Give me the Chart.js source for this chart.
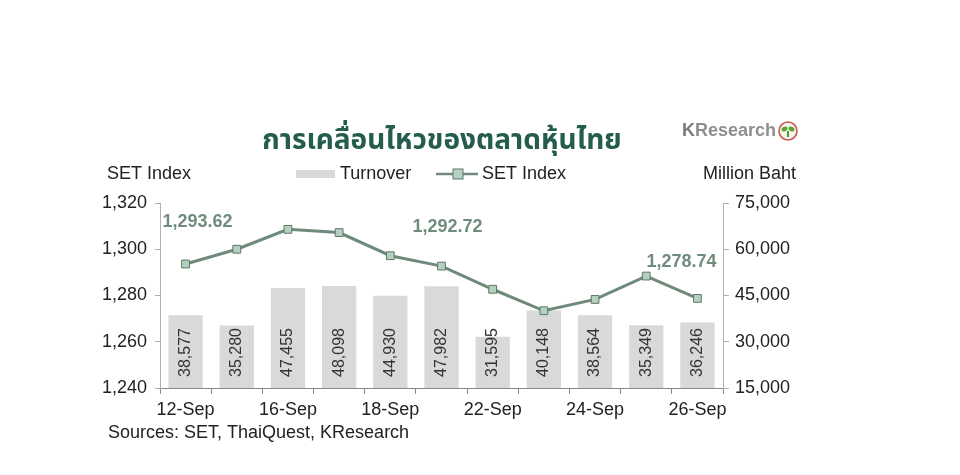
<!DOCTYPE html>
<html>
<head>
<meta charset="utf-8">
<script src="https://cdn.jsdelivr.net/npm/chart.js@4.4.1/dist/chart.umd.min.js"></script>
<style>
html, body { margin: 0; padding: 0; background: #fff; }
#wrap { width: 960px; height: 475px; }
</style>
</head>
<body>
<div id="wrap"><canvas id="cv-SET"></canvas></div>
<script>
// trading days, Sep 2025
const dates = ['12-Sep', '15-Sep', '16-Sep', '17-Sep', '18-Sep', '19-Sep', '22-Sep', '23-Sep', '24-Sep', '25-Sep', '26-Sep'];
const turnover = [38577, 35280, 47455, 48098, 44930, 47982, 31595, 40148, 38564, 35349, 36246];
const setIndex = [1293.62, 1300.0, 1308.6, 1307.2, 1297.2, 1292.72, 1282.7, 1273.4, 1278.3, 1288.4, 1278.74];
const calloutIdx = [0, 5, 10];

const titleText = 'การเคลื่อนไหวของตลาดหุ้นไทย';
const sourceText = 'Sources: SET, ThaiQuest, KResearch';

const FONT = '"Liberation Sans", Arial, sans-serif';
const fmt = v => Number(v).toLocaleString('en-US');

const extras = {
    id: 'extras',
    afterDatasetsDraw(chart) {
        const ctx = chart.ctx;
        // vertical turnover labels inside bars
        const bars = chart.getDatasetMeta(1).data;
        ctx.save();
        ctx.font = '16px ' + FONT;
        ctx.fillStyle = '#333';
        ctx.textAlign = 'left';
        ctx.textBaseline = 'middle';
        bars.forEach((bar, i) => {
            ctx.save();
            ctx.translate(bar.x, chart.chartArea.bottom - 11);
            ctx.rotate(-Math.PI / 2);
            ctx.fillText(fmt(turnover[i]), 0, 0);
            ctx.restore();
        });
        // callouts on the SET line
        const pts = chart.getDatasetMeta(0).data;
        const offs = [[12, -42], [6, -39], [-16, -36]];
        ctx.font = 'bold 18px ' + FONT;
        ctx.fillStyle = '#6f8d7d';
        ctx.textAlign = 'center';
        calloutIdx.forEach((idx, k) => {
            const p = pts[idx];
            ctx.fillText(setIndex[idx].toLocaleString('en-US', { minimumFractionDigits: 2 }), p.x + offs[k][0], p.y + offs[k][1]);
        });
        ctx.restore();
    },
    afterDraw(chart) {
        const ctx = chart.ctx;
        ctx.save();
        ctx.textBaseline = 'middle';

        // title
        ctx.font = 'bold 28px "Noto Sans Thai", "Noto Sans", "DejaVu Sans", sans-serif';
        ctx.fillStyle = '#245c4d';
        ctx.textAlign = 'center';
        ctx.fillText(titleText, 442, 143);

        // logo
        ctx.textAlign = 'left';
        ctx.font = 'bold 18px ' + FONT;
        ctx.fillStyle = '#7a7a7a';
        ctx.fillText('K', 682, 131);
        const kw = ctx.measureText('K').width;
        ctx.fillStyle = '#8f8f8f';
        ctx.fillText('Research', 682 + kw, 131);
        ctx.beginPath();
        ctx.arc(788, 131, 9, 0, Math.PI * 2);
        ctx.fillStyle = '#f4f4ee';
        ctx.fill();
        ctx.lineWidth = 1.6;
        ctx.strokeStyle = '#c65a55';
        ctx.stroke();
        ctx.beginPath();
        ctx.moveTo(788, 137);
        ctx.lineTo(788, 131);
        ctx.strokeStyle = '#4f9a2c';
        ctx.lineWidth = 2;
        ctx.stroke();
        ctx.fillStyle = '#5aa632';
        ctx.beginPath();
        ctx.ellipse(784.5, 129, 3.2, 2.2, -0.5, 0, Math.PI * 2);
        ctx.fill();
        ctx.beginPath();
        ctx.ellipse(791.5, 129, 3.2, 2.2, 0.5, 0, Math.PI * 2);
        ctx.fill();

        // axis titles
        ctx.font = '18px ' + FONT;
        ctx.fillStyle = '#222';
        ctx.textAlign = 'left';
        ctx.fillText('SET Index', 107, 174);
        ctx.textAlign = 'right';
        ctx.fillText('Million Baht', 796, 174);

        // legend
        ctx.textAlign = 'left';
        ctx.fillStyle = '#d9d9d9';
        ctx.fillRect(296, 170, 39, 8);
        ctx.fillStyle = '#222';
        ctx.fillText('Turnover', 340, 174);
        ctx.beginPath();
        ctx.moveTo(436, 174);
        ctx.lineTo(478, 174);
        ctx.strokeStyle = '#6f8a7b';
        ctx.lineWidth = 2.5;
        ctx.stroke();
        ctx.fillStyle = '#b6d0bf';
        ctx.fillRect(453, 169, 10, 10);
        ctx.strokeStyle = '#5e7768';
        ctx.lineWidth = 1;
        ctx.strokeRect(453, 169, 10, 10);
        ctx.fillStyle = '#222';
        ctx.fillText('SET Index', 482, 174);

        // source line
        ctx.fillText(sourceText, 108, 433);
        ctx.restore();
    }
};

const tickFont = { family: FONT, size: 18 };

new Chart(document.getElementById('cv-SET'), {
    type: 'bar',
    data: {
        labels: dates,
        datasets: [{
            type: 'line',
            label: 'SET Index',
            data: setIndex,
            yAxisID: 'y',
            borderColor: '#6f8a7b',
            borderWidth: 3,
            pointStyle: 'rect',
            pointRadius: 5.5,
            pointBackgroundColor: '#b6d0bf',
            pointBorderColor: '#5e7768',
            pointBorderWidth: 1,
            tension: 0,
            order: 0
        }, {
            type: 'bar',
            label: 'Turnover',
            data: turnover,
            yAxisID: 'y1',
            backgroundColor: '#d9d9d9',
            barPercentage: 0.67,
            categoryPercentage: 1.0,
            order: 1
        }]
    },
    options: {
        responsive: true,
        maintainAspectRatio: false,
        animation: false,
        layout: { padding: { top: 203, left: 0, right: 0, bottom: 0 } },
        plugins: { legend: { display: false }, tooltip: { enabled: false } },
        scales: {
            x: {
                grid: { offset: true, drawOnChartArea: false, tickLength: 6, color: '#8a8a8a' },
                border: { color: '#8a8a8a' },
                ticks: {
                    autoSkip: false,
                    maxRotation: 0,
                    padding: 5,
                    color: '#222',
                    font: tickFont,
                    callback: (v, i) => (i % 2 === 0 ? dates[i] : '')
                },
                afterFit: s => { s.height = 87; }
            },
            y: {
                position: 'left',
                min: 1240,
                max: 1320,
                grid: { drawOnChartArea: false, tickLength: 5, color: '#b0b0b0' },
                border: { color: '#b0b0b0' },
                ticks: { stepSize: 20, padding: 8, color: '#222', font: tickFont, callback: v => fmt(v) },
                afterFit: s => { s.width = 160; }
            },
            y1: {
                position: 'right',
                min: 15000,
                max: 75000,
                grid: { drawOnChartArea: false, tickLength: 6, color: '#b0b0b0' },
                border: { color: '#b0b0b0' },
                ticks: { stepSize: 15000, padding: 6, color: '#222', font: tickFont, callback: v => fmt(v) },
                afterFit: s => { s.width = 237; }
            }
        }
    },
    plugins: [extras]
});
</script>
</body>
</html>
